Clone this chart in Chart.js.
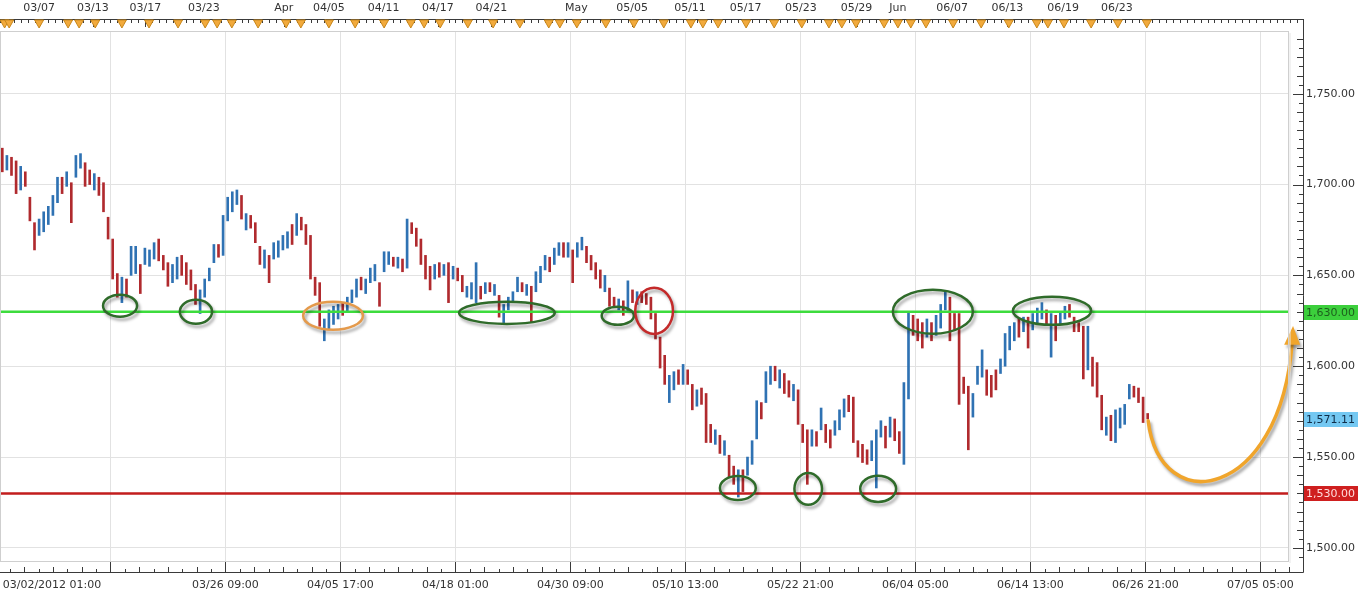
<!DOCTYPE html>
<html>
<head>
<meta charset="utf-8">
<script src="https://cdn.jsdelivr.net/npm/chart.js@4.4.0/dist/chart.umd.min.js"></script>
<style>
html, body { margin: 0; padding: 0; background: #fff; }
#wrap { width: 1360px; height: 598px; }
</style>
</head>
<body>
<div id="wrap"><canvas id="chart" width="1360" height="598"></canvas></div>
<script>
//Bar highs / lows, one bar per x unit
var highs = [
    1720,1716,1715,1713,1710,1707,1693,1679,1681,1685,
    1688,1694,1704,1704,1707,1701,1716,1717,1712,1708,
    1706,1704,1701,1682,1670,1651,1649,1648,1666,1666,
    1656,1665,1664,1668,1670,1661,1657,1656,1660,1661,
    1657,1653,1645,1642,1648,1654,1667,1667,1683,1693,
    1696,1697,1694,1684,1683,1679,1666,1664,1661,1668,
    1669,1672,1674,1678,1684,1682,1678,1672,1649,1646,
    1626,1631,1633,1634,1635,1638,1642,1648,1649,1648,
    1654,1656,1646,1663,1663,1660,1660,1659,1681,1679,
    1676,1670,1661,1655,1656,1657,1656,1657,1655,1654,
    1650,1644,1646,1657,1644,1646,1646,1645,1639,1634,
    1638,1641,1649,1646,1645,1644,1652,1655,1661,1660,
    1665,1668,1668,1668,1664,1668,1671,1666,1661,1657,
    1653,1650,1643,1638,1637,1636,1647,1642,1641,1641,
    1640,1638,1629,1616,1606,1595,1597,1598,1601,1598,
    1590,1587,1588,1585,1568,1565,1562,1559,1551,1545,
    1543,1543,1550,1559,1581,1580,1597,1600,1600,1598,
    1596,1592,1590,1587,1568,1565,1565,1564,1577,1568,
    1565,1570,1576,1582,1584,1583,1559,1557,1554,1559,
    1565,1570,1567,1572,1571,1564,1591,1630,1628,1626,
    1624,1626,1624,1628,1634,1641,1638,1629,1629,1594,
    1589,1585,1600,1609,1598,1595,1598,1604,1618,1622,
    1624,1626,1627,1627,1629,1632,1635,1631,1629,1628,
    1630,1633,1634,1627,1624,1622,1622,1605,1602,1584,
    1572,1573,1576,1577,1579,1590,1589,1588,1583,1574
];
var lows = [
    1707,1708,1705,1695,1697,1699,1680,1664,1672,1674,
    1678,1683,1690,1695,1699,1679,1704,1709,1699,1700,
    1697,1694,1685,1670,1648,1638,1635,1638,1650,1651,
    1640,1656,1655,1659,1658,1653,1644,1646,1648,1650,
    1645,1642,1634,1629,1638,1647,1657,1660,1661,1680,
    1685,1689,1681,1675,1676,1668,1656,1654,1646,1659,
    1660,1664,1665,1667,1672,1675,1667,1648,1639,1622,
    1614,1620,1623,1626,1628,1630,1635,1638,1642,1640,
    1646,1647,1633,1652,1656,1655,1654,1652,1654,1673,
    1666,1656,1648,1642,1648,1649,1650,1635,1648,1647,
    1641,1638,1637,1635,1637,1640,1641,1639,1627,1624,
    1631,1635,1641,1641,1639,1624,1641,1646,1653,1652,
    1656,1661,1660,1660,1646,1660,1664,1657,1653,1648,
    1643,1641,1633,1633,1631,1628,1630,1635,1634,1635,
    1634,1626,1615,1599,1590,1580,1587,1590,1590,1590,
    1576,1578,1579,1558,1558,1557,1552,1551,1539,1535,
    1528,1531,1540,1546,1560,1571,1580,1590,1592,1588,
    1585,1583,1581,1568,1558,1535,1556,1556,1565,1558,
    1555,1562,1565,1572,1575,1558,1550,1547,1546,1548,
    1533,1561,1555,1561,1559,1552,1546,1582,1617,1614,
    1610,1616,1614,1617,1621,1631,1614,1620,1579,1585,
    1554,1572,1590,1594,1584,1583,1587,1596,1600,1609,
    1614,1616,1619,1610,1620,1623,1626,1623,1605,1614,
    1623,1626,1627,1619,1619,1593,1598,1589,1583,1565,
    1562,1559,1558,1566,1568,1582,1583,1580,1569,1571
];
//1 = up bar (blue), 0 = down bar (red)
var ups = [
    0,1,0,0,1,0,0,0,1,1,
    1,1,1,0,1,0,1,1,0,0,
    1,0,0,0,0,0,1,0,1,1,
    0,1,1,1,0,0,0,1,1,0,
    0,0,0,1,1,1,1,0,1,1,
    1,1,0,1,0,0,0,1,0,1,
    1,1,1,0,1,0,0,0,0,0,
    1,1,1,1,0,1,1,1,0,1,
    1,1,0,1,1,0,1,0,1,0,
    0,0,0,0,1,0,1,0,1,0,
    0,1,1,1,0,1,0,1,0,1,
    1,1,1,0,1,0,1,1,1,0,
    1,1,0,1,0,1,1,0,0,0,
    0,1,0,0,1,0,1,0,1,0,
    0,0,0,0,0,1,1,0,1,0,
    0,1,0,0,0,1,0,1,0,0,
    1,0,1,1,1,0,1,1,0,1,
    0,0,1,0,0,0,1,0,1,0,
    0,1,1,1,0,0,0,0,0,1,
    1,1,0,1,0,0,1,1,0,0,
    0,1,0,1,1,1,0,0,0,0,
    0,1,1,1,0,0,0,1,1,1,
    1,0,1,0,1,1,1,0,1,0,
    1,1,0,0,0,0,1,0,0,0,
    1,0,1,1,1,1,0,0,0,0
];

//Support / resistance levels and the price tags on the right axis
var resistance = 1630;
var support = 1530;
var tagValues = [1630, 1571.11, 1530];
var tagLabels = ['1,630.00', '1,571.11', '1,530.00'];

//Bottom axis ticks (x units) and labels. First position has no grid line, its label sits at the left edge
var xTickPos = [11.3, 24, 49, 74, 99, 124, 149, 174, 199, 224, 249, 274];
var xTickLabels = ['03/02/2012 01:00', '', '03/26 09:00', '04/05 17:00', '04/18 01:00', '04/30 09:00',
    '05/10 13:00', '05/22 21:00', '06/04 05:00', '06/14 13:00', '06/26 21:00', '07/05 05:00'];

//Right axis ticks
var yTickVals = [1500, 1550, 1600, 1650, 1700, 1750];
var yTickLabels = ['1,500.00', '1,550.00', '1,600.00', '1,650.00', '1,700.00', '1,750.00'];

//Top (calendar) axis
var topPos = [8.5, 20.2, 31.6, 44.3, 61.7, 71.5, 83.4, 95.2, 106.8, 125.3, 137.4, 150, 162.1, 174.1, 186.2, 195.2, 207, 219, 231.1, 242.8];
var topLabels = ['03/07', '03/13', '03/17', '03/23', 'Apr', '04/05', '04/11', '04/17', '04/21', 'May', '05/05',
    '05/11', '05/17', '05/23', '05/29', 'Jun', '06/07', '06/13', '06/19', '06/23'];
var eventPos = [1, 2, 8.5, 14.8, 17.2, 20.7, 26.5, 32.4, 38.7, 44.6, 47.2, 50.4, 56.1, 62.2, 65.4, 71.5, 77.2,
    83.5, 89.3, 92.2, 95.7, 101.7, 107.2, 113, 119.3, 121.7, 125.4, 131.7, 137.8, 144.3, 150.2, 152.8, 156.1,
    162.2, 168.3, 174.3, 180.2, 183, 186.1, 192.2, 195.2, 198, 201.3, 207.2, 213.3, 219.3, 225.4, 227.8,
    231.3, 237.2, 243, 249.3];

//Hand drawn marks: ellipses (centre x, price, radius x units, radius price) and the forecast arrow
var ellipses = [
    {x: 26.1, y: 1633.3, rx: 3.7, ry: 6.1, c: '#2f6b2a'},
    {x: 42.6, y: 1630.0, rx: 3.5, ry: 6.6, c: '#2f6b2a'},
    {x: 72.4, y: 1627.8, rx: 6.5, ry: 7.7, c: '#e49a4c'},
    {x: 110.2, y: 1629.4, rx: 10.4, ry: 6.1, c: '#2f6b2a'},
    {x: 134.3, y: 1627.8, rx: 3.5, ry: 5.0, c: '#2f6b2a'},
    {x: 142.2, y: 1630.5, rx: 4.1, ry: 12.7, c: '#c42a2a'},
    {x: 160.4, y: 1533.0, rx: 3.9, ry: 6.6, c: '#2f6b2a'},
    {x: 175.7, y: 1532.5, rx: 3.0, ry: 8.8, c: '#2f6b2a'},
    {x: 190.9, y: 1532.5, rx: 3.9, ry: 7.2, c: '#2f6b2a'},
    {x: 202.8, y: 1630.0, rx: 8.7, ry: 12.1, c: '#2f6b2a'},
    {x: 228.7, y: 1630.5, rx: 8.5, ry: 7.7, c: '#2f6b2a'}
];
var arrowPts = [[249.6, 1570.0], [252.2, 1515.4], [278.3, 1526.4], [280.9, 1612.9], [281.1, 1621.1]];

var font = 'DejaVu Sans';

/*
    Draws everything the library has no element for: frame, axes lines, minor ticks,
    top calendar axis, price tags, ellipses and the arrow.
*/
var decor = {
    id: 'decor',
    beforeDraw: function (c)
    {
        var ctx = c.ctx;
        ctx.save();
        ctx.fillStyle = '#fff';
        ctx.fillRect(0, 0, c.width, c.height);
        ctx.restore();
    },
    afterDatasetsDraw: function (c)
    {
        var ctx = c.ctx, xs = c.scales.x, ys = c.scales.y;
        ctx.save();
        ctx.shadowColor = 'rgba(0,0,0,0.35)';
        ctx.shadowOffsetX = 2;
        ctx.shadowOffsetY = 3;
        ctx.shadowBlur = 3;
        ctx.lineWidth = 2.5;
        for (var i = 0; i < ellipses.length; i++)
        {
            var e = ellipses[i];
            var cx = xs.getPixelForValue(e.x), cy = ys.getPixelForValue(e.y);
            var rx = xs.getPixelForValue(e.x + e.rx) - cx;
            var ry = cy - ys.getPixelForValue(e.y + e.ry);
            ctx.strokeStyle = e.c;
            ctx.beginPath();
            ctx.ellipse(cx, cy, rx, ry, 0, 0, Math.PI * 2);
            ctx.stroke();
        }
        //forecast arrow
        var p = arrowPts.map(function (a) { return [xs.getPixelForValue(a[0]), ys.getPixelForValue(a[1])]; });
        ctx.strokeStyle = '#f0a52c';
        ctx.fillStyle = '#f0a52c';
        ctx.lineWidth = 3.5;
        ctx.lineCap = 'round';
        ctx.beginPath();
        ctx.moveTo(p[0][0], p[0][1]);
        ctx.bezierCurveTo(p[1][0], p[1][1], p[2][0], p[2][1], p[3][0], p[3][1]);
        ctx.stroke();
        ctx.beginPath();
        ctx.moveTo(p[4][0], p[4][1] - 2);
        ctx.lineTo(p[3][0] - 8, p[3][1] + 2);
        ctx.lineTo(p[3][0] + 8, p[3][1] + 2);
        ctx.closePath();
        ctx.fill();
        ctx.restore();
    },
    afterDraw: function (c)
    {
        var ctx = c.ctx, xs = c.scales.x, ys = c.scales.y, a = c.chartArea;
        var axisX = a.right + 15, topY = 19, botY = a.bottom + 11;
        ctx.save();
        //plot frame
        ctx.strokeStyle = '#cfcfcf';
        ctx.lineWidth = 1;
        ctx.strokeRect(a.left + 0.5, a.top + 0.5, a.right - a.left, a.bottom - a.top);
        ctx.strokeStyle = '#e6e6e6';
        ctx.beginPath();
        ctx.moveTo(a.right + 2, a.top + 2);
        ctx.lineTo(a.right + 2, a.bottom + 2);
        ctx.stroke();

        //axis lines
        ctx.strokeStyle = '#3a3a3a';
        ctx.beginPath();
        ctx.moveTo(0, topY + 0.5); ctx.lineTo(axisX + 0.5, topY + 0.5);
        ctx.moveTo(axisX + 0.5, topY); ctx.lineTo(axisX + 0.5, botY + 0.5);
        ctx.moveTo(0, botY + 0.5); ctx.lineTo(axisX + 0.5, botY + 0.5);
        ctx.stroke();

        //bottom minor ticks
        ctx.beginPath();
        for (var k = 1; k < 92; k++)
        {
            if (k % 8 == 0) continue;
            var v = 24 - 25 + k * 25 / 8;
            var px = Math.round(xs.getPixelForValue(v)) + 0.5;
            if (px > axisX) break;
            var len = (k % 2 == 0) ? 5 : 3;
            ctx.moveTo(px, botY); ctx.lineTo(px, botY - len);
        }
        ctx.stroke();

        //right axis ticks every 5
        ctx.beginPath();
        for (var p = 1495; p <= 1785; p += 5)
        {
            var py = Math.round(ys.getPixelForValue(p)) + 0.5;
            if (py < a.top || py > a.bottom) continue;
            var l = (p % 50 == 0) ? 10 : (p % 10 == 0 ? 6 : 4);
            ctx.moveTo(axisX - l, py); ctx.lineTo(axisX, py);
        }
        ctx.stroke();

        //top axis ticks
        ctx.beginPath();
        for (var t = 0; t < 190; t++)
        {
            var tx = Math.round(xs.getPixelForValue(t * 1.5)) + 0.5;
            if (tx > axisX) break;
            ctx.moveTo(tx, topY); ctx.lineTo(tx, topY + 4);
        }
        for (var j = 0; j < topPos.length; j++)
        {
            var lx = Math.round(xs.getPixelForValue(topPos[j])) + 0.5;
            ctx.moveTo(lx, topY); ctx.lineTo(lx, topY + 8);
        }
        ctx.stroke();

        //event markers
        ctx.fillStyle = '#f2aa3c';
        ctx.strokeStyle = '#c9881c';
        for (var m = 0; m < eventPos.length; m++)
        {
            var ex = xs.getPixelForValue(eventPos[m]);
            ctx.beginPath();
            ctx.moveTo(ex - 4.5, topY + 1);
            ctx.lineTo(ex + 4.5, topY + 1);
            ctx.lineTo(ex, topY + 9);
            ctx.closePath();
            ctx.fill();
            ctx.stroke();
        }

        //top labels
        ctx.fillStyle = '#333';
        ctx.font = '11px "' + font + '"';
        ctx.textAlign = 'center';
        ctx.textBaseline = 'middle';
        for (var n = 0; n < topLabels.length; n++)
        {
            ctx.fillText(topLabels[n], xs.getPixelForValue(topPos[n]), 8);
        }

        //price tags
        var tagBg = ['#3ccf3c', '#74c8f2', '#cf1f1f'];
        var tagFg = ['#1d5e1d', '#0f2d48', '#ffdcdc'];
        ctx.textAlign = 'left';
        for (var q = 0; q < tagValues.length; q++)
        {
            var ty = Math.round(ys.getPixelForValue(tagValues[q]));
            ctx.fillStyle = tagBg[q];
            ctx.fillRect(axisX + 1, ty - 7, 54, 15);
            ctx.fillStyle = tagFg[q];
            ctx.fillText(tagLabels[q], axisX + 3, ty + 1);
        }
        ctx.restore();
    }
};

var bars = highs.map(function (h, i) { return {x: i + 0.5, y: [lows[i], h]}; });
var barColors = ups.map(function (u) { return u ? '#2f72b3' : '#b02a2e'; });

new Chart(document.getElementById('chart'), {
    data: {
        datasets: [
            {
                type: 'line',
                data: [{x: 0, y: resistance}, {x: 280, y: resistance}],
                borderColor: '#3ddc3d',
                borderWidth: 2.5,
                pointRadius: 0,
                order: 0
            },
            {
                type: 'line',
                data: [{x: 0, y: support}, {x: 280, y: support}],
                borderColor: '#c21d1d',
                borderWidth: 2.5,
                pointRadius: 0,
                order: 0
            },
            {
                type: 'bar',
                data: bars,
                backgroundColor: barColors,
                barThickness: 2,
                grouped: false,
                order: 1
            }
        ]
    },
    options: {
        responsive: false,
        animation: false,
        devicePixelRatio: 1,
        layout: {padding: {top: 31, left: 0, right: 0, bottom: 0}},
        plugins: {legend: {display: false}, tooltip: {enabled: false}},
        scales: {
            x: {
                type: 'linear',
                position: 'bottom',
                offset: false,
                min: 0,
                max: 280,
                afterBuildTicks: function (s) { s.ticks = xTickPos.map(function (v) { return {value: v}; }); },
                afterFit: function (s) { s.height = 37; s.paddingLeft = 0; s.paddingRight = 0; },
                ticks: {
                    autoSkip: false,
                    maxRotation: 0,
                    padding: 7,
                    color: '#333',
                    font: {family: font, size: 11},
                    callback: function (v) { return xTickLabels[xTickPos.indexOf(v)]; }
                },
                grid: {
                    offset: false,
                    color: function (ctx) { return ctx.index === 0 ? 'rgba(0,0,0,0)' : '#e2e2e2'; },
                    tickColor: function (ctx) { return ctx.index === 0 ? 'rgba(0,0,0,0)' : '#3a3a3a'; },
                    tickLength: 11
                },
                border: {display: false}
            },
            y: {
                type: 'linear',
                position: 'right',
                min: 1492.8,
                max: 1784.5,
                afterBuildTicks: function (s) { s.ticks = yTickVals.map(function (v) { return {value: v}; }); },
                afterFit: function (s) { s.width = 72; s.paddingTop = 0; s.paddingBottom = 0; },
                ticks: {
                    padding: 3,
                    color: '#333',
                    font: {family: font, size: 11},
                    callback: function (v) { return yTickLabels[yTickVals.indexOf(v)]; }
                },
                grid: {color: '#e2e2e2', tickColor: 'rgba(0,0,0,0)', tickLength: 15},
                border: {display: false}
            }
        }
    },
    plugins: [decor]
});
</script>
</body>
</html>
